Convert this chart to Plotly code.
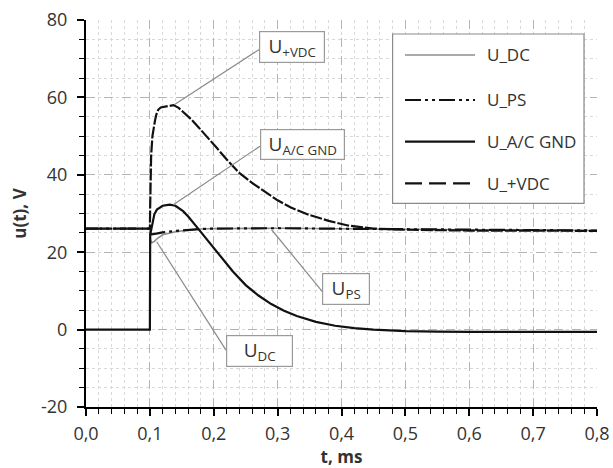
import plotly.graph_objects as go

# Measured voltage transients, time in ms, voltage in V
t_dc = [0, 0.1, 0.101, 0.103, 0.107, 0.112, 0.12, 0.14, 0.16, 0.18, 0.2, 0.3, 0.45, 0.6, 0.8]
u_dc = [26.1, 26.1, 23.2, 22.4, 22.8, 23.6, 24.5, 25.3, 25.7, 26.0, 26.1, 26.2, 26.0, 25.8, 25.6]

t_ps = [0, 0.1, 0.101, 0.103, 0.11, 0.12, 0.14, 0.16, 0.18, 0.2, 0.3, 0.45, 0.6, 0.8]
u_ps = [26.1, 26.1, 24.8, 24.6, 24.8, 25.1, 25.5, 25.8, 26.0, 26.1, 26.2, 26.0, 25.8, 25.6]

t_ac = [0, 0.1, 0.1005, 0.102, 0.104, 0.107, 0.111, 0.12, 0.131, 0.14, 0.152, 0.16, 0.173,
        0.185, 0.194, 0.205, 0.215, 0.23, 0.25, 0.27, 0.29, 0.31, 0.33, 0.36, 0.39, 0.42,
        0.45, 0.5, 0.55, 0.6, 0.7, 0.8]
u_ac = [0, 0, 24.5, 25.8, 28.0, 29.8, 31.0, 32.0, 32.3, 32.0, 30.6, 29.2, 26.6,
        24.2, 22.3, 20.1, 18.0, 15.0, 11.5, 8.8, 6.6, 4.9, 3.5, 2.0, 1.0, 0.4,
        0.0, -0.4, -0.5, -0.6, -0.6, -0.6]

t_vdc = [0, 0.1, 0.1005, 0.102, 0.104, 0.106, 0.108, 0.11, 0.113, 0.117, 0.122, 0.13, 0.137,
         0.145, 0.155, 0.165, 0.175, 0.19, 0.205, 0.22, 0.24, 0.26, 0.28, 0.3, 0.32, 0.35,
         0.38, 0.41, 0.45, 0.5, 0.55, 0.6, 0.7, 0.8]
u_vdc = [26.1, 26.1, 32.0, 45.0, 50.0, 52.5, 54.0, 55.5, 56.8, 57.4, 57.6, 57.9, 58.0,
         57.3, 55.8, 54.3, 52.5, 49.8, 46.9, 44.0, 40.5, 37.9, 35.6, 33.4, 31.6, 29.6,
         28.1, 26.9, 26.1, 25.8, 25.7, 25.6, 25.6, 25.5]

# Axis tick labels
x_tick_vals = [0.0, 0.1, 0.2, 0.3, 0.4, 0.5, 0.6, 0.7, 0.8]
x_tick_text = ["0,0", "0,1", "0,2", "0,3", "0,4", "0,5", "0,6", "0,7", "0,8"]
y_tick_vals = [-20, 0, 20, 40, 60, 80]
y_tick_text = ["-20", "0", "20", "40", "60", "80"]

series_names = ["U_DC", "U_PS", "U_A/C GND", "U_+VDC"]
series_colors = ["#8c8c8c", "#111111", "#111111", "#111111"]
series_widths = [1.6, 2.2, 2.2, 2.2]
plot_dash = ["solid", "16px,4px,3px,4px,3px,4px", "solid", "12px,2px"]
legend_dash = ["solid", "16px,4px,3px,4px,3px,4px", "solid", "17px,7px"]

# Callout labels: text, anchor point on curve (t, u), line start (t, u), box centre (t, u), box size
callouts = [
    ("U<sub>+VDC</sub>", (0.1393, 58.2), (0.2713, 72.4), (0.3228, 73.06), 66, 32),
    ("U<sub>A/C GND</sub>", (0.1367, 32.25), (0.2724, 47.4), (0.339, 47.8), 85, 31),
    ("U<sub>PS</sub>", (0.2907, 25.8), (0.370, 9.8), (0.4078, 10.44), 48, 32),
    ("U<sub>DC</sub>", (0.1107, 22.7), (0.2192, -5.3), (0.272, -5.54), 67, 32),
]

FONT = "Open Sans"
TXT = "#333333"

fig = go.Figure()
for t, u, name, col, w, d in zip([t_dc, t_ps, t_ac, t_vdc], [u_dc, u_ps, u_ac, u_vdc],
                                 series_names, series_colors, series_widths, plot_dash):
    fig.add_trace(go.Scatter(x=t, y=u, mode="lines", name=name,
                             line=dict(color=col, width=w, dash=d), showlegend=False))

shapes = []
annotations = []

# callout leader lines and boxed labels
for text, (xa, ya), (xs, ys), (xc, yc), bw, bh in callouts:
    shapes.append(dict(type="line", xref="x", yref="y", x0=xs, y0=ys, x1=xa, y1=ya,
                       line=dict(color="#8a8a8a", width=1.2), layer="above"))
    annotations.append(dict(x=xc, y=yc, xref="x", yref="y", text=text, showarrow=False,
                            font=dict(family=FONT, size=19, color=TXT),
                            bgcolor="white", bordercolor="#9a9a9a", borderwidth=1.2,
                            borderpad=0, width=bw - 2, height=bh - 2,
                            xanchor="center", yanchor="middle", align="center"))

# legend frame and entries
shapes.append(dict(type="rect", xref="paper", yref="paper", x0=0.600, x1=0.9746,
                   y0=0.5264, y1=0.9638, line=dict(color="#8a8a8a", width=1.2),
                   fillcolor="white", layer="above"))
legend_y = [0.9096, 0.7933, 0.6855, 0.5780]
for name, col, w, d, ly in zip(series_names, series_colors, series_widths, legend_dash, legend_y):
    shapes.append(dict(type="line", xref="paper", yref="paper", x0=0.6243, x1=0.7613,
                       y0=ly, y1=ly, line=dict(color=col, width=w, dash=d), layer="above"))
    annotations.append(dict(x=0.7808, y=ly, xref="paper", yref="paper", text=name,
                            showarrow=False, xanchor="left", yanchor="middle",
                            font=dict(family=FONT, size=17, color=TXT)))

axis_common = dict(
    showline=True, linecolor="black", linewidth=2,
    ticks="outside", ticklen=7, tickwidth=1.5, tickcolor="black",
    showgrid=True, gridcolor="#b4b4b4", griddash="dash", gridwidth=1,
    zeroline=False, automargin=False,
    tickfont=dict(family=FONT, size=18, color=TXT),
)

fig.update_layout(
    width=613, height=468,
    margin=dict(l=86, r=16, t=20, b=61, pad=0),
    paper_bgcolor="white", plot_bgcolor="white",
    showlegend=False,
    shapes=shapes,
    annotations=annotations,
    xaxis=dict(range=[0, 0.8], tickmode="array", tickvals=x_tick_vals, ticktext=x_tick_text,
               ticklabelstandoff=2,
               minor=dict(dtick=0.02, tick0=0, ticks="outside", ticklen=5, tickwidth=1.2,
                          tickcolor="black", showgrid=True, gridcolor="#d8d8d8",
                          griddash="dot", gridwidth=1),
               title=dict(text="<b>t, ms</b>", font=dict(family=FONT, size=17, color=TXT),
                          standoff=6),
               **axis_common),
    yaxis=dict(range=[-20, 80], tickmode="array", tickvals=y_tick_vals, ticktext=y_tick_text,
               ticklabelstandoff=6,
               minor=dict(dtick=5, tick0=0, ticks="outside", ticklen=5, tickwidth=1.2,
                          tickcolor="black", showgrid=True, gridcolor="#d8d8d8",
                          griddash="dot", gridwidth=1),
               title=dict(text="<b>u(t), V</b>", font=dict(family=FONT, size=17, color=TXT),
                          standoff=10),
               **axis_common),
)

fig.write_html("out.html")
